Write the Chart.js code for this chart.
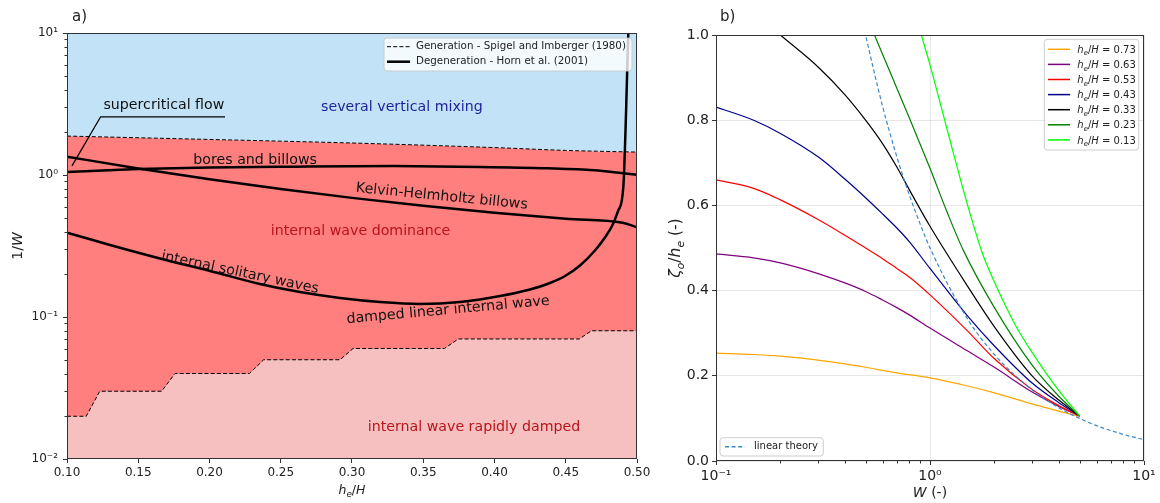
<!DOCTYPE html>
<html><head><meta charset="utf-8">
<script src="https://cdn.jsdelivr.net/npm/chart.js@4.4.1/dist/chart.umd.min.js"></script>
<style>
html,body{margin:0;padding:0;background:#fff;width:1160px;height:503px;overflow:hidden}
#wa{position:absolute;left:0;top:0;width:660px;height:503px}
#wb{position:absolute;left:660px;top:0;width:500px;height:503px}
</style></head><body>
<div id="wa"><canvas id="ca" width="660" height="503"></canvas></div>
<div id="wb"><canvas id="cb" width="500" height="503"></canvas></div>
<script>
// ---------------- Panel a) data ----------------
const genUpperX = [0.10, 0.20, 0.30, 0.40, 0.45, 0.50];
const genUpperY = [1.88, 1.78, 1.68, 1.56, 1.49, 1.45];
const genLowerX = [0.10, 0.1135, 0.123, 0.1664, 0.1758, 0.228, 0.238, 0.2916, 0.3007, 0.3648, 0.3746, 0.4595, 0.468, 0.50];
const genLowerY = [0.02, 0.02, 0.03, 0.03, 0.04, 0.04, 0.05, 0.05, 0.06, 0.06, 0.07, 0.07, 0.08, 0.08];
const boresX = [0.10, 0.15, 0.20, 0.26, 0.33, 0.39, 0.437, 0.47, 0.49, 0.50];
const boresY = [1.05, 1.10, 1.13, 1.145, 1.155, 1.14, 1.115, 1.08, 1.03, 1.005];
const khX = [0.10, 0.15, 0.20, 0.25, 0.30, 0.35, 0.40, 0.45, 0.49, 0.50];
const khY = [1.346, 1.112, 0.934, 0.797, 0.690, 0.607, 0.543, 0.492, 0.461, 0.428];
const hornX = [0.10, 0.1302, 0.1653, 0.2004, 0.2354, 0.2635, 0.2916, 0.3197, 0.3477, 0.3758, 0.4039, 0.4249, 0.4390, 0.4495, 0.4600, 0.4705, 0.4775, 0.4832, 0.4867, 0.4904, 0.4939];
const hornY = [0.3925, 0.3214, 0.2582, 0.2109, 0.1707, 0.1499, 0.1361, 0.1275, 0.1235, 0.1275, 0.1405, 0.1562, 0.1736, 0.1944, 0.2305, 0.2940, 0.3629, 0.4518, 0.5579, 0.8233, 10];
const superX = [0.1035, 0.1236, 0.2109];
const superY = [1.16, 2.57, 2.57];
const aXTicks = [0.10, 0.15, 0.20, 0.25, 0.30, 0.35, 0.40, 0.45, 0.50];
const aXTickLabels = ['0.10', '0.15', '0.20', '0.25', '0.30', '0.35', '0.40', '0.45', '0.50'];
const aYTicks = [0.01, 0.1, 1, 10];
const aYTickLabels = ['10\u207B\u00B2', '10\u207B\u00B9', '10\u2070', '10\u00B9'];
const aLegend = ['Generation - Spigel and Imberger (1980)', 'Degeneration - Horn et al. (2001)'];

// ---------------- Panel b) data ----------------
const bRatios = ['0.73', '0.63', '0.53', '0.43', '0.33', '0.23', '0.13'];
const wOrange = [0.1, 0.15, 0.2, 0.3, 0.4, 0.5, 0.7, 1, 1.5, 2, 3, 4, 5];
const zOrange = [0.253, 0.25, 0.246, 0.237, 0.228, 0.22, 0.207, 0.195, 0.176, 0.16, 0.134, 0.117, 0.105];
const wPurple = [0.1, 0.15, 0.2, 0.3, 0.4, 0.5, 0.6, 0.7, 0.8, 1, 1.5, 2, 3, 4, 5];
const zPurple = [0.486, 0.477, 0.465, 0.44, 0.418, 0.398, 0.378, 0.36, 0.343, 0.312, 0.258, 0.22, 0.162, 0.128, 0.106];
const wRed = [0.1, 0.15, 0.2, 0.3, 0.4, 0.5, 0.6, 0.7, 0.8, 1, 1.5, 2, 3, 4, 5];
const zRed = [0.66, 0.64, 0.613, 0.567, 0.53, 0.50, 0.475, 0.452, 0.432, 0.39, 0.305, 0.24, 0.168, 0.13, 0.105];
const wNavy = [0.1, 0.15, 0.2, 0.3, 0.4, 0.5, 0.6, 0.7, 0.8, 1, 1.5, 2, 3, 4, 5];
const zNavy = [0.831, 0.80, 0.769, 0.714, 0.662, 0.618, 0.58, 0.547, 0.515, 0.452, 0.34, 0.27, 0.183, 0.137, 0.106];
const wBlack = [0.18, 0.2, 0.3, 0.4, 0.5, 0.6, 0.7, 0.8, 1, 1.5, 2, 3, 4, 5];
const zBlack = [1.02, 1.0, 0.925, 0.86, 0.80, 0.745, 0.69, 0.637, 0.551, 0.41, 0.315, 0.2, 0.143, 0.106];
const wGreen = [0.5, 0.55, 0.6, 0.7, 0.8, 1, 1.2, 1.43, 2, 3, 4, 5];
const zGreen = [1.05, 1.0, 0.955, 0.875, 0.806, 0.687, 0.585, 0.495, 0.36, 0.225, 0.152, 0.106];
const wLime = [0.85, 0.9, 1, 1.2, 1.5, 1.75, 2, 2.5, 3, 4, 5];
const zLime = [1.06, 1.01, 0.93, 0.78, 0.60, 0.49, 0.42, 0.32, 0.255, 0.165, 0.106];
const wLinear = [0.48, 0.5, 0.6, 0.7, 0.8, 0.9, 1, 1.5, 2, 3, 4, 5, 6, 8, 10];
const zLinear = [1.04, 1.0, 0.833, 0.714, 0.625, 0.556, 0.5, 0.333, 0.25, 0.167, 0.125, 0.1, 0.083, 0.0625, 0.05];
const bXTicks = [0.1, 1, 10];
const bXTickLabels = ['10\u207B\u00B9', '10\u2070', '10\u00B9'];
const bYTicks = [0, 0.2, 0.4, 0.6, 0.8, 1.0];
const bYTickLabels = ['0.0', '0.2', '0.4', '0.6', '0.8', '1.0'];

// ---------------- helpers ----------------
const FAM = "'DejaVu Sans', sans-serif";
Chart.defaults.font.family = FAM;
Chart.defaults.font.size = 12;
Chart.defaults.color = '#222';
const pts = (xs, ys) => xs.map((x, i) => ({x: x, y: ys[i]}));
function rfont(p, size) { return (p.it ? 'italic ' : '') + (p.sub ? (size * 0.7).toFixed(1) : size) + 'px ' + FAM; }
function drawRich(ctx, parts, x, y, size, align) {
  let w = 0;
  parts.forEach(p => { ctx.font = rfont(p, size); p.w = ctx.measureText(p.t).width; w += p.w; });
  let cx = align === 'center' ? x - w / 2 : (align === 'right' ? x - w : x);
  ctx.textAlign = 'left'; ctx.textBaseline = 'alphabetic';
  parts.forEach(p => { ctx.font = rfont(p, size); ctx.fillText(p.t, cx, y + (p.sub ? size * 0.25 : 0)); cx += p.w; });
}
function roundRect(ctx, x, y, w, h, r) {
  ctx.beginPath();
  ctx.moveTo(x + r, y); ctx.lineTo(x + w - r, y); ctx.quadraticCurveTo(x + w, y, x + w, y + r);
  ctx.lineTo(x + w, y + h - r); ctx.quadraticCurveTo(x + w, y + h, x + w - r, y + h);
  ctx.lineTo(x + r, y + h); ctx.quadraticCurveTo(x, y + h, x, y + h - r);
  ctx.lineTo(x, y + r); ctx.quadraticCurveTo(x, y, x + r, y); ctx.closePath();
}
function minorLog(lo, hi) { const out = []; for (let e = lo; e < hi; e++) for (let k = 2; k <= 9; k++) out.push(k * Math.pow(10, e)); return out; }

const BLUE = '#c2e3f7', RED = '#ff7f7f', PINK = '#f6c0c1';
const TXT_NAVY = '#1f1f9c', TXT_RED = '#b8141a';
const DASH = [4, 2.2];
const NOTE_SIZE = 14.2;

// ---------------- Panel a ----------------
const aNotes = [
  {t: 'several vertical mixing', x: 0.335, y: 3.0, r: 0, c: TXT_NAVY},
  {t: 'supercritical flow', x: 0.168, y: 3.11, r: 0, c: '#111'},
  {t: 'bores and billows', x: 0.232, y: 1.275, r: 0, c: '#111'},
  {t: 'Kelvin-Helmholtz billows', x: 0.363, y: 0.705, r: 5.6, c: '#111'},
  {t: 'internal solitary waves', x: 0.2214, y: 0.205, r: 12, c: '#111'},
  {t: 'internal wave dominance', x: 0.306, y: 0.404, r: 0, c: TXT_RED},
  {t: 'damped linear internal wave', x: 0.3674, y: 0.1115, r: -5.2, c: '#111'},
  {t: 'internal wave rapidly damped', x: 0.3856, y: 0.0166, r: 0, c: TXT_RED}
];
const aDeco = {
  id: 'aDeco',
  afterDraw(chart) {
    const {ctx, chartArea: a, scales: {x, y}} = chart;
    ctx.save();
    aNotes.forEach(n => {
      ctx.save();
      ctx.translate(x.getPixelForValue(n.x), y.getPixelForValue(n.y));
      ctx.rotate(n.r * Math.PI / 180);
      ctx.font = NOTE_SIZE + 'px ' + FAM; ctx.fillStyle = n.c; ctx.textAlign = 'center'; ctx.textBaseline = 'middle';
      ctx.fillText(n.t, 0, 0);
      ctx.restore();
    });
    // legend
    const bw = 248, bh = 33, bx = a.right - 5 - bw, by = a.top + 5;
    roundRect(ctx, bx, by, bw, bh, 3);
    ctx.fillStyle = 'rgba(255,255,255,0.8)'; ctx.fill();
    ctx.strokeStyle = 'rgba(200,200,200,0.9)'; ctx.lineWidth = 1; ctx.stroke();
    [[DASH, 1], [[], 2.5]].forEach((s, i) => {
      const ly = by + 8.7 + i * 15;
      ctx.beginPath(); ctx.setLineDash(s[0]); ctx.lineWidth = s[1]; ctx.strokeStyle = '#000';
      ctx.moveTo(bx + 3, ly); ctx.lineTo(bx + 26, ly); ctx.stroke();
      ctx.setLineDash([]);
      ctx.font = '10.3px ' + FAM; ctx.fillStyle = '#222'; ctx.textAlign = 'left'; ctx.textBaseline = 'middle';
      ctx.fillText(aLegend[i], bx + 32, ly);
    });
    // minor ticks
    ctx.strokeStyle = '#333'; ctx.lineWidth = 1;
    minorLog(-2, 1).forEach(v => {
      const py = Math.round(y.getPixelForValue(v)) + 0.5;
      ctx.beginPath(); ctx.moveTo(a.left - 2.5, py); ctx.lineTo(a.left, py); ctx.stroke();
    });
    // frame
    ctx.strokeStyle = '#333'; ctx.lineWidth = 1;
    ctx.strokeRect(Math.round(a.left) + 0.5, Math.round(a.top) + 0.5, Math.round(a.right - a.left) - 1, Math.round(a.bottom - a.top) - 1);
    // axis labels
    ctx.fillStyle = '#222';
    drawRich(ctx, [{t: 'h', it: 1}, {t: 'e', it: 1, sub: 1}, {t: '/'}, {t: 'H', it: 1}], (a.left + a.right) / 2, 494, 12.5, 'center');
    ctx.save(); ctx.translate(22, (a.top + a.bottom) / 2); ctx.rotate(-Math.PI / 2);
    drawRich(ctx, [{t: '1/'}, {t: 'W', it: 1}], 0, 0, 14, 'center');
    ctx.restore();
    ctx.font = '15px ' + FAM; ctx.textAlign = 'left'; ctx.textBaseline = 'alphabetic';
    ctx.fillText('a)', 72, 20.5);
    ctx.restore();
  }
};

new Chart(document.getElementById('ca'), {
  type: 'scatter',
  data: {datasets: [
    {label: 'low', data: pts(genLowerX, genLowerY), showLine: true, borderColor: '#000', borderWidth: 1, borderDash: DASH, fill: 'start', backgroundColor: PINK, pointRadius: 0, tension: 0},
    {label: 'up', data: pts(genUpperX, genUpperY), showLine: true, borderColor: '#000', borderWidth: 1, borderDash: DASH, fill: 'end', backgroundColor: BLUE, pointRadius: 0, cubicInterpolationMode: 'monotone'},
    {label: 'red', data: pts(genUpperX, genUpperY), showLine: true, borderColor: 'rgba(0,0,0,0)', borderWidth: 1, fill: 'start', backgroundColor: RED, pointRadius: 0, cubicInterpolationMode: 'monotone'},
    {label: 'bores', data: pts(boresX, boresY), showLine: true, borderColor: '#000', borderWidth: 2.5, fill: false, pointRadius: 0, cubicInterpolationMode: 'monotone'},
    {label: 'kh', data: pts(khX, khY), showLine: true, borderColor: '#000', borderWidth: 2.5, fill: false, pointRadius: 0, cubicInterpolationMode: 'monotone'},
    {label: 'horn', data: pts(hornX, hornY), showLine: true, borderColor: '#000', borderWidth: 2.5, fill: false, pointRadius: 0, cubicInterpolationMode: 'monotone'},
    {label: 'super', data: pts(superX, superY), showLine: true, borderColor: '#000', borderWidth: 1.3, fill: false, pointRadius: 0, tension: 0}
  ]},
  options: {
    responsive: false, animation: false, devicePixelRatio: 1, events: [],
    layout: {padding: {left: 0, top: 33, right: 23, bottom: 0}},
    plugins: {legend: {display: false}, tooltip: {enabled: false}, filler: {drawTime: 'beforeDatasetsDraw'}},
    scales: {
      x: {type: 'linear', min: 0.1, max: 0.5,
        afterBuildTicks: s => { s.ticks = aXTicks.map(v => ({value: v})); },
        afterFit: s => { s.height = 44; },
        ticks: {callback: (v, i) => aXTickLabels[i], padding: 3, maxRotation: 0, autoSkip: false, color: '#222', font: {size: 12}},
        grid: {drawOnChartArea: false, drawTicks: true, tickLength: 4, tickColor: '#333'},
        border: {display: false}},
      y: {type: 'logarithmic', min: 0.01, max: 10,
        afterBuildTicks: s => { s.ticks = aYTicks.map(v => ({value: v})); },
        afterFit: s => { s.width = 67; },
        ticks: {callback: (v, i) => aYTickLabels[i], padding: 5, autoSkip: false, color: '#222', font: {size: 12}},
        grid: {drawOnChartArea: false, drawTicks: true, tickLength: 4, tickColor: '#333'},
        border: {display: false}}
    }
  },
  plugins: [aDeco]
});

// ---------------- Panel b ----------------
const bColors = ['#ffa500', '#800080', '#ff0000', '#00008b', '#000000', '#008000', '#00ff00'];
const LINBLUE = '#3b87c9';
const bSeries = [[wOrange, zOrange], [wPurple, zPurple], [wRed, zRed], [wNavy, zNavy], [wBlack, zBlack], [wGreen, zGreen], [wLime, zLime]];
const bDatasets = bSeries.map((s, i) => ({
  label: 'h_e/H = ' + bRatios[i], data: pts(s[0], s[1]), showLine: true, borderColor: bColors[i], borderWidth: 1.2,
  pointRadius: 0, fill: false, cubicInterpolationMode: 'monotone', order: 10 - i
}));
bDatasets.push({label: 'linear theory', data: pts(wLinear, zLinear), showLine: true, borderColor: LINBLUE, borderWidth: 1.2,
  borderDash: [4, 2.6], pointRadius: 0, fill: false, cubicInterpolationMode: 'monotone', order: 0});

const bDeco = {
  id: 'bDeco',
  afterDraw(chart) {
    const {ctx, chartArea: a, scales: {x, y}} = chart;
    ctx.save();
    // minor ticks on x
    ctx.strokeStyle = '#333'; ctx.lineWidth = 1;
    minorLog(-1, 1).forEach(v => {
      const px = Math.round(x.getPixelForValue(v)) + 0.5;
      ctx.beginPath(); ctx.moveTo(px, a.bottom); ctx.lineTo(px, a.bottom + 2.5); ctx.stroke();
    });
    // frame
    ctx.strokeRect(Math.round(a.left) + 0.5, Math.round(a.top) + 0.5, Math.round(a.right - a.left) - 1, Math.round(a.bottom - a.top) - 1);
    // legend (upper right)
    const bw = 94.4, bh = 110.7, bx = a.right - 5.3 - bw, by = a.top + 4.3;
    roundRect(ctx, bx, by, bw, bh, 3);
    ctx.fillStyle = 'rgba(255,255,255,0.8)'; ctx.fill();
    ctx.strokeStyle = 'rgba(200,200,200,0.9)'; ctx.lineWidth = 1; ctx.stroke();
    bRatios.forEach((r, i) => {
      const ly = by + 10 + i * 15.1;
      ctx.beginPath(); ctx.strokeStyle = bColors[i]; ctx.lineWidth = 1.5;
      ctx.moveTo(bx + 3.7, ly); ctx.lineTo(bx + 25.7, ly); ctx.stroke();
      ctx.fillStyle = '#222';
      drawRich(ctx, [{t: 'h', it: 1}, {t: 'e', it: 1, sub: 1}, {t: '/'}, {t: 'H', it: 1}, {t: ' = ' + r}], bx + 33, ly + 3.6, 10, 'left');
    });
    // legend (lower left)
    const lw = 103.3, lh = 18.3, lx = a.left + 4, ly0 = a.bottom - 5 - lh;
    roundRect(ctx, lx, ly0, lw, lh, 3);
    ctx.fillStyle = 'rgba(255,255,255,0.8)'; ctx.fill();
    ctx.strokeStyle = 'rgba(200,200,200,0.9)'; ctx.lineWidth = 1; ctx.stroke();
    ctx.beginPath(); ctx.setLineDash([4, 2.6]); ctx.strokeStyle = LINBLUE; ctx.lineWidth = 1.5;
    ctx.moveTo(lx + 5, ly0 + 9); ctx.lineTo(lx + 25, ly0 + 9); ctx.stroke(); ctx.setLineDash([]);
    ctx.font = '10px ' + FAM; ctx.fillStyle = '#222'; ctx.textAlign = 'left'; ctx.textBaseline = 'middle';
    ctx.fillText('linear theory', lx + 34, ly0 + 9);
    // axis labels
    ctx.fillStyle = '#222';
    drawRich(ctx, [{t: 'W', it: 1}, {t: ' (-)'}], (a.left + a.right) / 2, 497, 14, 'center');
    ctx.save(); ctx.translate(20, (a.top + a.bottom) / 2); ctx.rotate(-Math.PI / 2);
    drawRich(ctx, [{t: '\u03B6', it: 1}, {t: 'o', it: 1, sub: 1}, {t: '/'}, {t: 'h', it: 1}, {t: 'e', it: 1, sub: 1}, {t: ' (-)'}], 0, 0, 15.5, 'center');
    ctx.restore();
    ctx.font = '15px ' + FAM; ctx.textAlign = 'left'; ctx.textBaseline = 'alphabetic';
    ctx.fillText('b)', 60, 21);
    ctx.restore();
  }
};

new Chart(document.getElementById('cb'), {
  type: 'scatter',
  data: {datasets: bDatasets},
  options: {
    responsive: false, animation: false, devicePixelRatio: 1, events: [],
    layout: {padding: {left: 0, top: 35, right: 16, bottom: 0}},
    plugins: {legend: {display: false}, tooltip: {enabled: false}},
    scales: {
      x: {type: 'logarithmic', min: 0.1, max: 10,
        afterBuildTicks: s => { s.ticks = bXTicks.map(v => ({value: v})); },
        afterFit: s => { s.height = 42; },
        ticks: {callback: (v, i) => bXTickLabels[i], padding: 3, maxRotation: 0, autoSkip: false, color: '#222', font: {size: 14}},
        grid: {drawOnChartArea: true, color: 'rgba(0,0,0,0.12)', lineWidth: 0.8, drawTicks: true, tickLength: 4, tickColor: '#333', tickWidth: 1},
        border: {display: false}},
      y: {type: 'linear', min: 0, max: 1,
        afterBuildTicks: s => { s.ticks = bYTicks.map(v => ({value: v})); },
        afterFit: s => { s.width = 56; },
        ticks: {callback: (v, i) => bYTickLabels[i], padding: 3, autoSkip: false, color: '#222', font: {size: 14}},
        grid: {drawOnChartArea: true, color: 'rgba(0,0,0,0.12)', lineWidth: 0.8, drawTicks: true, tickLength: 4, tickColor: '#333', tickWidth: 1},
        border: {display: false}}
    }
  },
  plugins: [bDeco]
});
</script>
</body></html>
